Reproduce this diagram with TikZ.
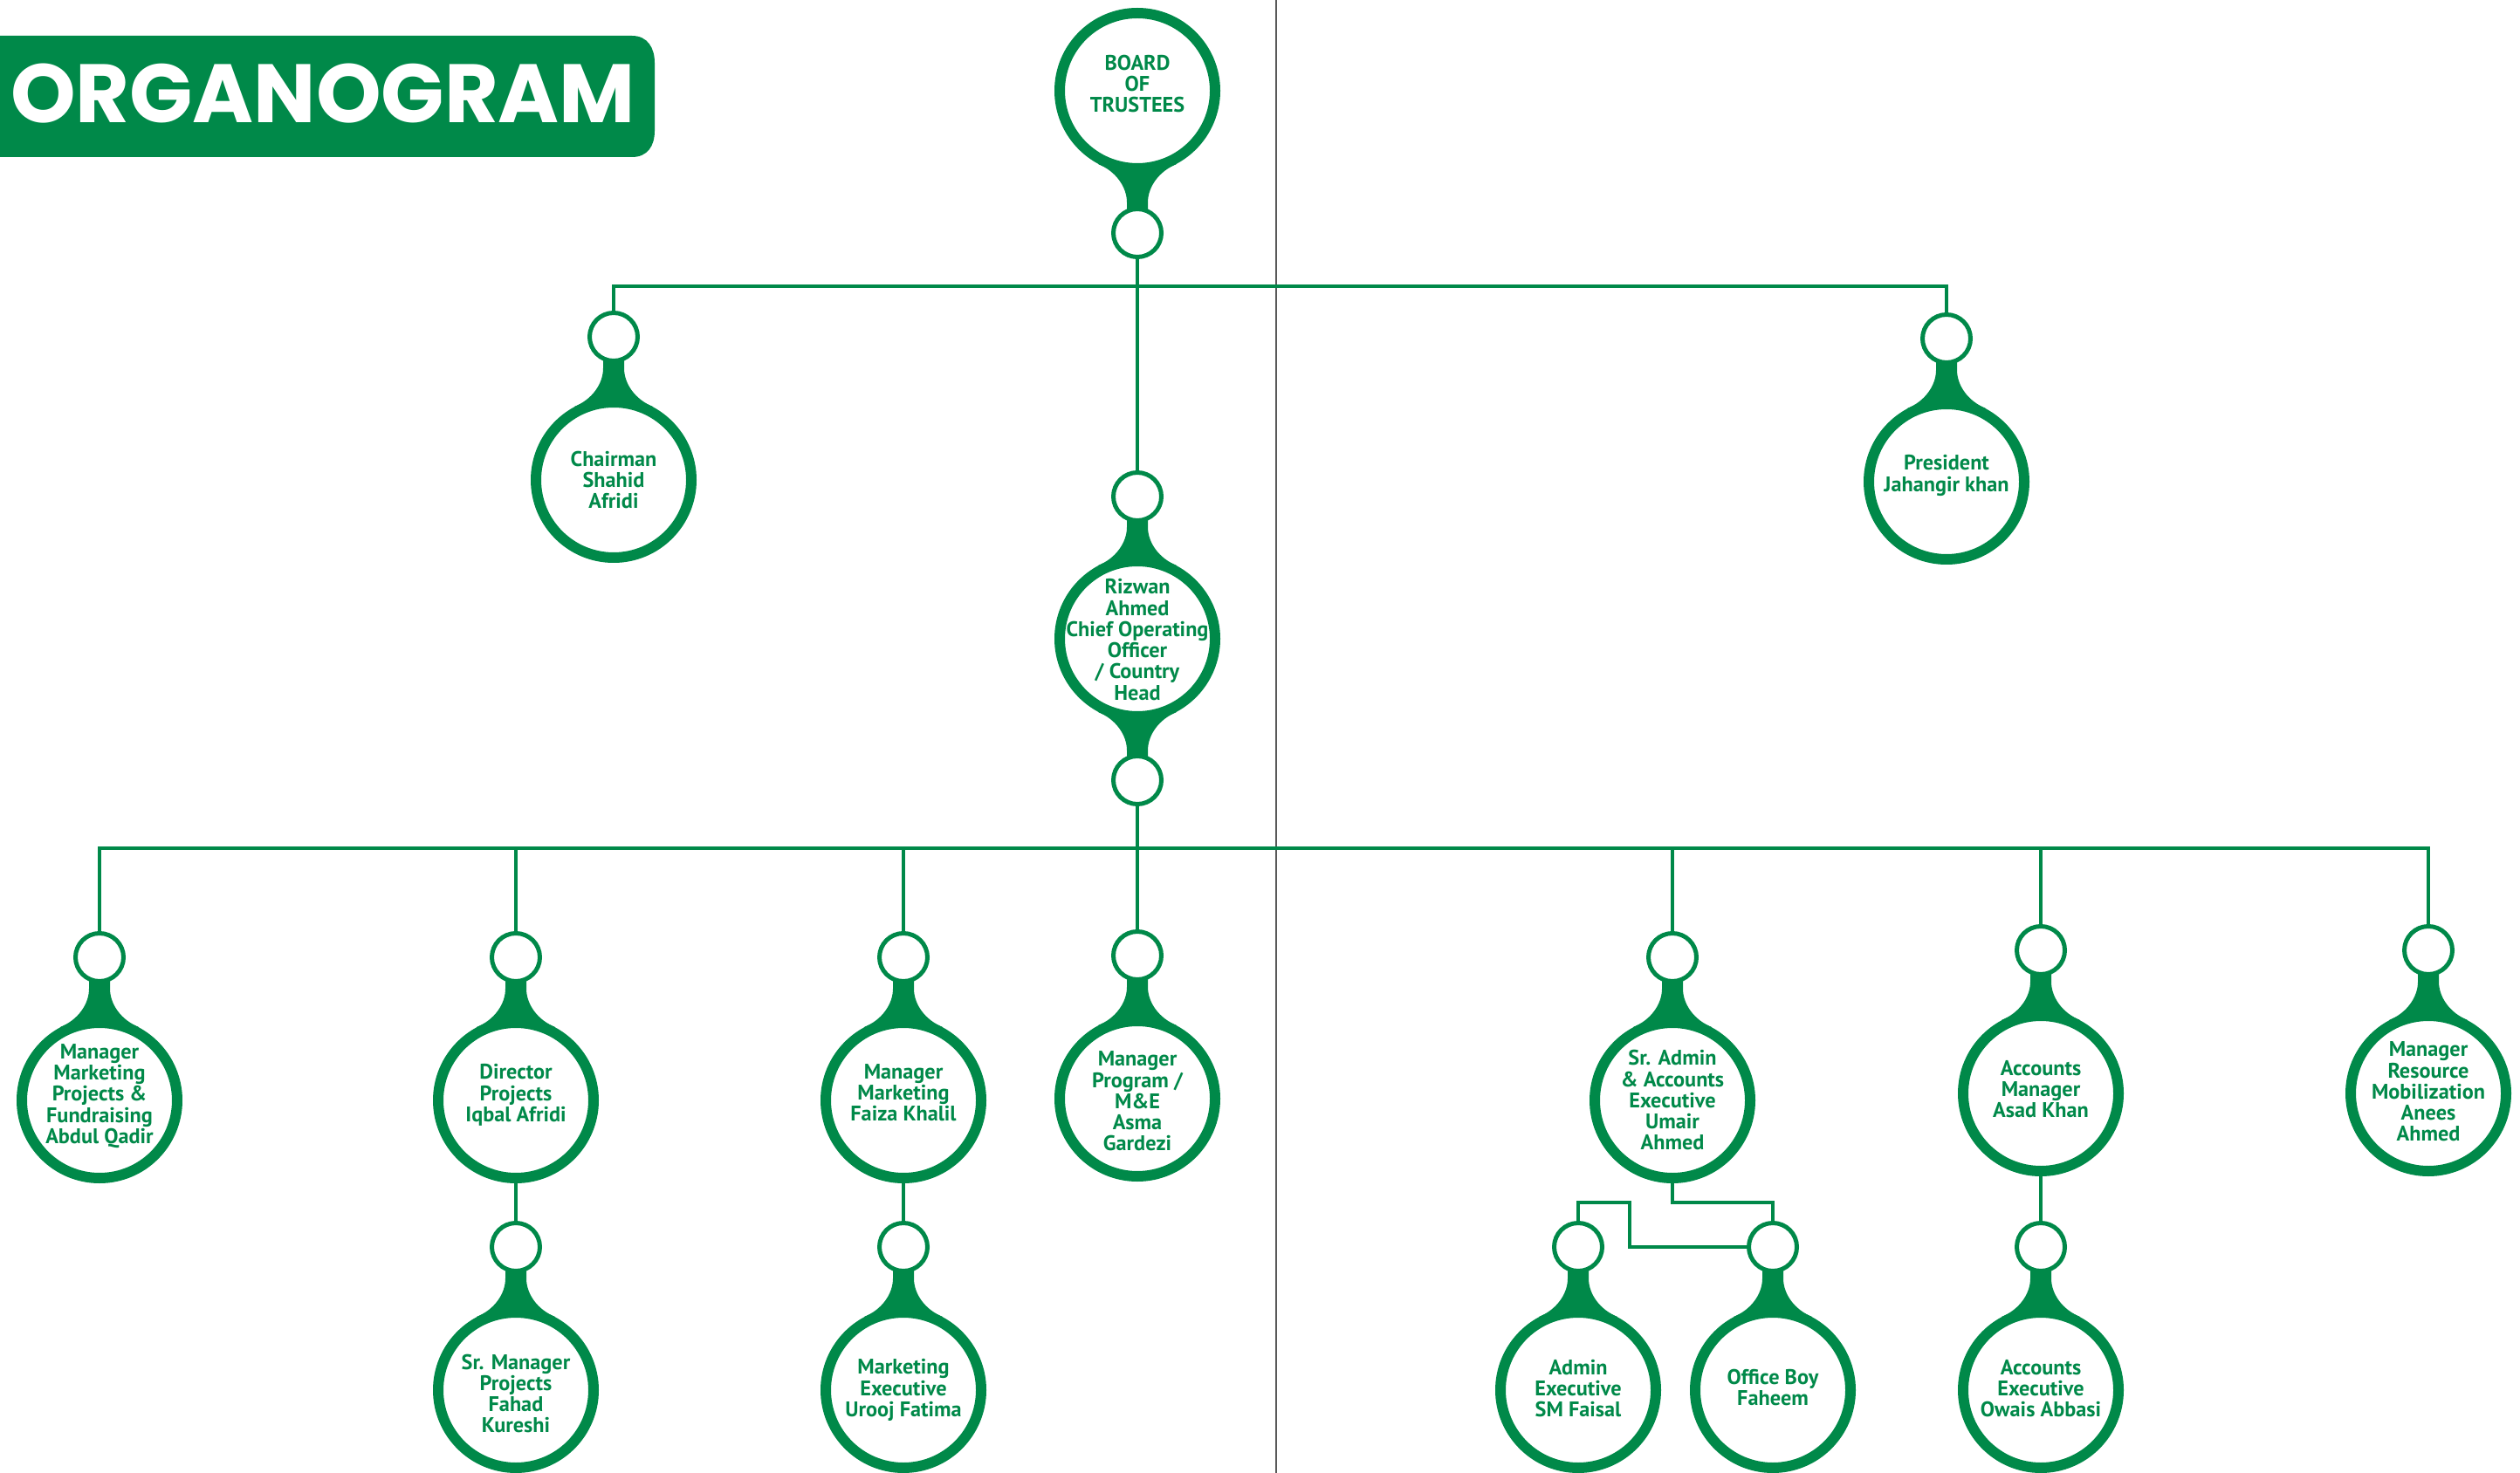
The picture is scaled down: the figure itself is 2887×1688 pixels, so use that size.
\documentclass[tikz,border=0pt]{standalone}
\usepackage{fontspec}
\setmainfont{PT Sans}
\newfontfamily\titlefont{Poppins}
\definecolor{og}{RGB}{0,137,73}
\tikzset{
  conn/.style={draw=og, line width=0.45mm},
  bignode/.style={circle, draw=og, fill=white, line width=1.2mm, minimum size=17.8mm, inner sep=0pt},
  nodetext/.style={align=center, text=og, inner sep=0pt, font=\bfseries\fontsize{6.9}{6.9}\selectfont},
  smallnode/.style={circle, draw=og, fill=white, line width=0.5mm, minimum size=5.5mm, inner sep=0pt},
  neckup/.pic={\fill[og] (-45,-84) .. controls (-25,-92) and (-12,-110) .. (-12,-128)
      -- (-12,-150) -- (12,-150) -- (12,-128) .. controls (12,-110) and (25,-92) .. (45,-84)
      -- (0,0) -- cycle;},
  neckdown/.pic={\fill[og] (-45,84) .. controls (-25,92) and (-12,110) .. (-12,128)
      -- (-12,150) -- (12,150) -- (12,128) .. controls (12,110) and (25,92) .. (45,84)
      -- (0,0) -- cycle;}
}
% member with small circle above: name, x, y, text offset (px, down), text
\newcommand\orgmember[5]{%
  \pic at (#2,#3) {neckup};
  \node[smallnode] (#1-s) at (#2,#3-164) {};
  \node[bignode] (#1) at (#2,#3) {};
  \node[nodetext] (#1-t) at (#2,#3+#4) {#5};
}
\begin{document}
\begin{tikzpicture}[x=0.1mm, y=-0.1mm]
\useasboundingbox (0,0) rectangle (2887,1688);
\clip (0,0) rectangle (2887,1688);
% divider
\draw[black!65, line width=0.2mm] (1462,0) -- (1462,1688);
% title
\fill[og] (0,41) -- (724,41) .. controls (742,41) and (750,55) .. (750,72)
  -- (750,150) .. controls (750,167) and (742,180) .. (724,180) -- (0,180) -- cycle;
\node[text=white, font=\titlefont\bfseries\fontsize{27}{27}\selectfont, inner sep=0pt] (title) at (370,107) {ORGANOGRAM};
% board
\pic at (1303,104) {neckdown};
\node[smallnode] (bd-s) at (1303,267) {};
\node[bignode] (bd) at (1303,104) {};
\node[nodetext] (bd-t) at (1303,96) {BOARD\\OF\\TRUSTEES};
% rizwan
\pic at (1303,732) {neckup};
\pic at (1303,732) {neckdown};
\node[smallnode] (rz-s) at (1303,569) {};
\node[smallnode] (rz-b) at (1303,894) {};
\node[bignode] (rz) at (1303,732) {};
\node[nodetext] (rz-t) at (1303,733) {Rizwan\\Ahmed\\Chief Operating\\Officer\\/ Country\\Head};
% level 1
\orgmember{ch}{703}{550}{0}{Chairman\\Shahid\\Afridi}
\orgmember{pr}{2230}{552}{-7}{President\\Jahangir khan}
% level 2
\orgmember{mmp}{114}{1261}{-5}{Manager\\Marketing\\Projects \&\\Fundraising\\Abdul Qadir}
\orgmember{dir}{591}{1261}{-6}{Director\\Projects\\Iqbal Afridi}
\orgmember{mmf}{1035}{1261}{-9}{Manager\\Marketing\\Faiza Khalil}
\orgmember{mp}{1303}{1259}{3}{Manager\\Program /\\M\&E\\Asma\\Gardezi}
\orgmember{sa}{1916}{1261}{0}{Sr. Admin\\\& Accounts\\Executive\\Umair\\Ahmed}
\orgmember{am}{2338}{1253}{-5}{Accounts\\Manager\\Asad Khan}
\orgmember{mr}{2782}{1253}{-2}{Manager\\Resource\\Mobilization\\Anees\\Ahmed}
% level 3
\orgmember{smp}{591}{1593}{4}{Sr. Manager\\Projects\\Fahad\\Kureshi}
\orgmember{me}{1035}{1593}{0}{Marketing\\Executive\\Urooj Fatima}
\orgmember{ae}{1808}{1593}{-2}{Admin\\Executive\\SM Faisal}
\orgmember{ob}{2031}{1593}{-3}{Office Boy\\Faheem}
\orgmember{acc}{2338}{1593}{-2}{Accounts\\Executive\\Owais Abbasi}
% connectors
\coordinate (h1) at (1303,328);
\coordinate (h2) at (1303,972);
\draw[conn] (bd-s.south) -- (rz-s.north);
\draw[conn] (ch-s.north) |- (h1) -| (pr-s.north);
\draw[conn] (rz-b.south) -- (h2);
\draw[conn] (mmp-s.north) |- (h2) -| (mr-s.north);
\foreach \n in {dir,mmf,mp,sa,am} {\draw[conn] (\n-s.north) -- (\n-s.north |- h2);}
\draw[conn] (dir.south) -- (smp-s.north);
\draw[conn] (mmf.south) -- (me-s.north);
\draw[conn] (am.south) -- (acc-s.north);
\draw[conn] (sa.south) -- ++(0,22) -| (ob-s.north);
\draw[conn] (ob-s.west) -| (1867,1378) -| (ae-s.north);
\end{tikzpicture}
\end{document}
